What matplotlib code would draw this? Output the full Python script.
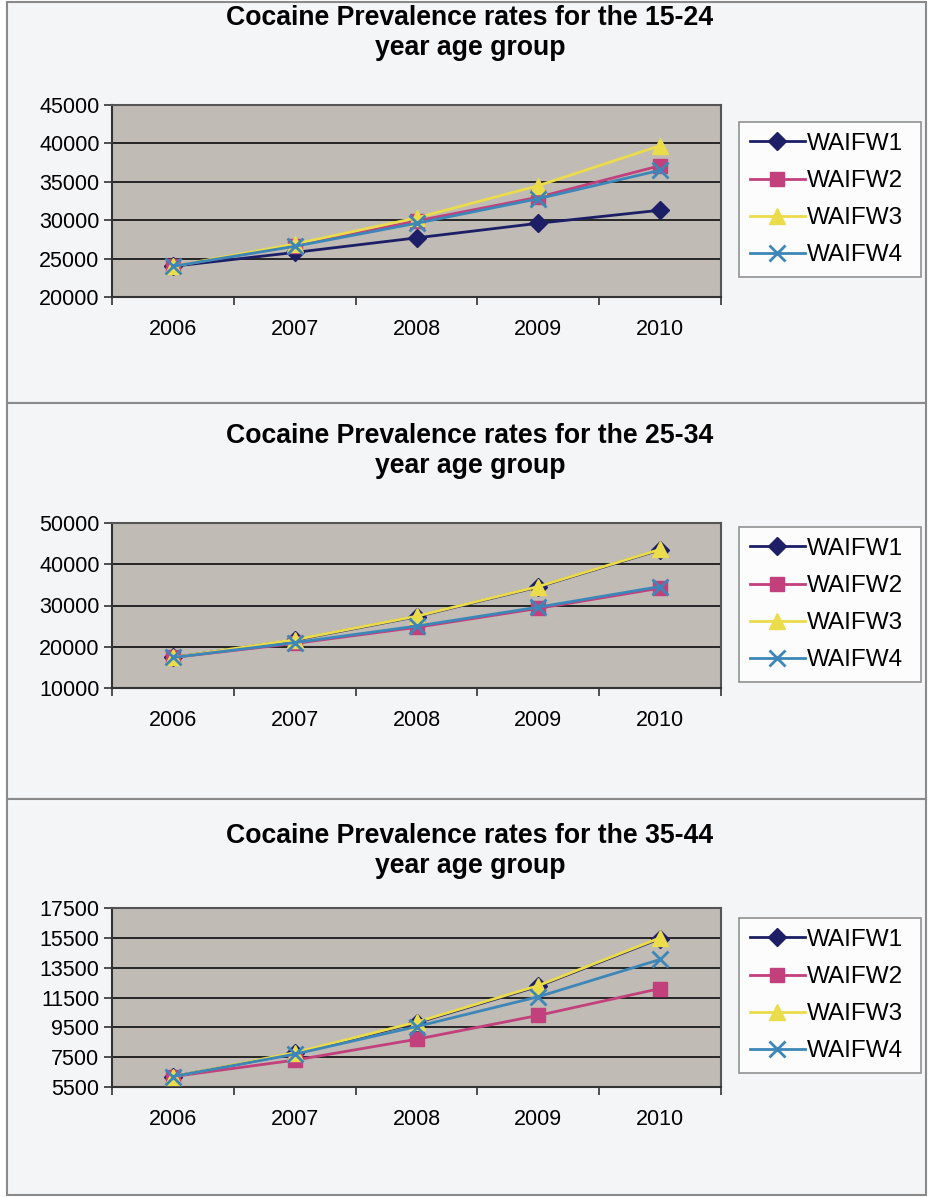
import matplotlib
matplotlib.use("Agg")
import matplotlib.pyplot as plt
from matplotlib.patches import Rectangle

plt.rcParams['font.family'] = ['Liberation Sans', 'DejaVu Sans']

W, H = 932, 1197

years = ['2006', '2007', '2008', '2009', '2010']
series_names = ['WAIFW1', 'WAIFW2', 'WAIFW3', 'WAIFW4']

# Chart 1: 15-24
c1_w1 = [24000, 25800, 27700, 29600, 31300]
c1_w2 = [24000, 26700, 29900, 33000, 37100]
c1_w3 = [24000, 26900, 30300, 34500, 39700]
c1_w4 = [24000, 26600, 29600, 32800, 36500]

# Chart 2: 25-34
c2_w1 = [17400, 21600, 27300, 34500, 43500]
c2_w2 = [17400, 20800, 24700, 29300, 34200]
c2_w3 = [17400, 21700, 27400, 34600, 43600]
c2_w4 = [17400, 21000, 25000, 29600, 34600]

# Chart 3: 35-44
c3_w1 = [6200, 7750, 9800, 12250, 15450]
c3_w2 = [6200, 7300, 8700, 10300, 12100]
c3_w3 = [6200, 7800, 9850, 12300, 15500]
c3_w4 = [6200, 7700, 9550, 11550, 14050]

titles = ['Cocaine Prevalence rates for the 15-24\nyear age group',
          'Cocaine Prevalence rates for the 25-34\nyear age group',
          'Cocaine Prevalence rates for the 35-44\nyear age group']
y_ticks = [[20000, 25000, 30000, 35000, 40000, 45000],
           [10000, 20000, 30000, 40000, 50000],
           [5500, 7500, 9500, 11500, 13500, 15500, 17500]]

colors = ['#1c1f66', '#c2417c', '#ebdc4c', '#3d86b8']
markers = ['D', 's', '^', 'x']
msizes = [9, 10, 11, 11]

fig = plt.figure(figsize=(W / 100, H / 100), dpi=100)
fig.patch.set_facecolor('white')


def fbox(x0, y0, x1, y1):
    return [x0 / W, 1 - y1 / H, (x1 - x0) / W, (y1 - y0) / H]


panels = [(7, 2, 926, 403), (7, 403, 926, 799), (7, 799, 926, 1195)]
plot_boxes = [(112, 105, 721, 297), (112, 523, 721, 688), (112, 908, 721, 1087)]
title_y = [33, 451, 851]
legend_boxes = [(739, 122, 921, 273), (739, 527, 921, 675), (739, 918, 921, 1068)]
data = [[c1_w1, c1_w2, c1_w3, c1_w4],
        [c2_w1, c2_w2, c2_w3, c2_w4],
        [c3_w1, c3_w2, c3_w3, c3_w4]]

for (px0, py0, px1, py1) in panels:
    r = Rectangle((px0 / W, 1 - py1 / H), (px1 - px0) / W, (py1 - py0) / H,
                  transform=fig.transFigure, facecolor='#f4f5f7',
                  edgecolor='#8a8a8a', linewidth=1.5, zorder=0)
    fig.add_artist(r)

for i in range(3):
    ax = fig.add_axes(fbox(*plot_boxes[i]))
    ax.set_facecolor('#c0bbb5')
    xs = [k + 0.5 for k in range(len(years))]
    handles = []
    for j in range(4):
        ln, = ax.plot(xs, data[i][j], color=colors[j], lw=2.0,
                      marker=markers[j], markersize=msizes[j],
                      markerfacecolor=colors[j], markeredgecolor=colors[j],
                      markeredgewidth=2.0 if markers[j] == 'x' else 1.0,
                      label=series_names[j], clip_on=False, zorder=3 + j)
        handles.append(ln)
    yt = y_ticks[i]
    ax.set_ylim(yt[0], yt[-1])
    ax.set_yticks(yt)
    ax.set_yticklabels([str(v) for v in yt], fontsize=15.5)
    ax.yaxis.grid(True, color='#1a1a1a', lw=1.3)
    ax.set_axisbelow(True)
    ax.set_xlim(0, len(years))
    ax.set_xticks(range(len(years) + 1))
    ax.set_xticklabels([''] * (len(years) + 1))
    ax.set_xticks(xs, minor=True)
    ax.set_xticklabels(years, minor=True, fontsize=15.5)
    ax.tick_params(axis='x', which='minor', length=0, pad=16)
    ax.tick_params(axis='x', which='major', length=6, width=1.2, color='#333333')
    ax.tick_params(axis='y', length=6, width=1.2, color='#333333', pad=3)
    for s in ax.spines.values():
        s.set_color('#555555')
        s.set_linewidth(1.5)
    ax.spines['left'].set_color('#333333')
    ax.spines['bottom'].set_color('#333333')

    fig.text(470 / W, 1 - title_y[i] / H, titles[i], ha='center', va='center',
             fontsize=19.2, fontweight='bold', linespacing=1.2)

    lx0, ly0, lx1, ly1 = legend_boxes[i]
    leg = fig.legend(handles=handles, loc='upper left',
                     bbox_to_anchor=(lx0 / W, 1 - ly1 / H, (lx1 - lx0) / W, (ly1 - ly0) / H),
                     mode='expand', fontsize=17.5, frameon=True, fancybox=False,
                     handlelength=2.25, handletextpad=0.1, labelspacing=0.62,
                     borderpad=0.45, borderaxespad=0)
    leg.get_frame().set_edgecolor('#777777')
    leg.get_frame().set_facecolor('white')
    leg.get_frame().set_linewidth(1.2)

fig.savefig('out.png', dpi=100, facecolor=fig.get_facecolor())
